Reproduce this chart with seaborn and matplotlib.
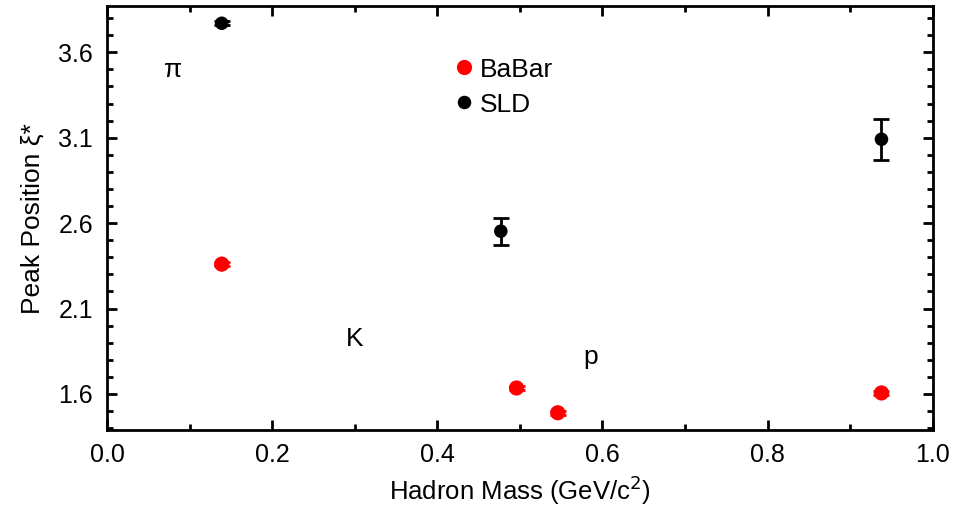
import numpy as np
import pandas as pd
import matplotlib
matplotlib.use("Agg")
import matplotlib.pyplot as plt
import seaborn as sns
from matplotlib.ticker import MultipleLocator

# Data
babar_mass = [0.139, 0.496, 0.546, 0.938]
babar_peak = [2.36, 1.635, 1.49, 1.606]
babar_err = [0.012, 0.012, 0.012, 0.012]
sld_mass = [0.139, 0.477, 0.938]
sld_peak = [3.77, 2.553, 3.091]
sld_err = [0.012, 0.08, 0.12]
particle_labels = ["π", "K", "p"]
label_x = [0.080, 0.300, 0.586]
label_y = [3.495, 1.92, 1.816]

sns.set_theme(style="ticks")
plt.rcParams['font.family'] = ['Liberation Sans', 'DejaVu Sans']
plt.rcParams['text.color'] = 'black'
plt.rcParams['axes.labelcolor'] = 'black'
plt.rcParams['xtick.color'] = 'black'
plt.rcParams['ytick.color'] = 'black'

df = pd.concat([
    pd.DataFrame({"mass": babar_mass, "peak": babar_peak, "exp": "BaBar"}),
    pd.DataFrame({"mass": sld_mass, "peak": sld_peak, "exp": "SLD"}),
])

fig = plt.figure(figsize=(9.68, 5.08), dpi=100)
ax = fig.add_axes([0.1105, 0.1535, 0.853, 0.834])

ax.errorbar(babar_mass, babar_peak, yerr=babar_err, fmt='none', ecolor='red',
            elinewidth=2, capsize=6, capthick=2, zorder=2)
ax.errorbar(sld_mass, sld_peak, yerr=sld_err, fmt='none', ecolor='black',
            elinewidth=2, capsize=6, capthick=2, zorder=2)
sns.scatterplot(data=df, x="mass", y="peak", hue="exp", size="exp",
                sizes={"BaBar": 120, "SLD": 95},
                palette={"BaBar": "#ff0000", "SLD": "black"},
                edgecolor="none", ax=ax, zorder=3)

for t, x, y in zip(particle_labels, label_x, label_y):
    ax.text(x, y, t, fontsize=19, ha='center', va='center', color='black')

ax.set_xlim(0, 1.0)
ax.set_ylim(1.389, 3.869)
ax.set_xticks([0.0, 0.2, 0.4, 0.6, 0.8, 1.0])
ax.set_xticklabels(["0.0", "0.2", "0.4", "0.6", "0.8", "1.0"])
ax.set_yticks([1.6, 2.1, 2.6, 3.1, 3.6])
ax.set_yticklabels(["1.6", "2.1", "2.6", "3.1", "3.6"])
ax.xaxis.set_minor_locator(MultipleLocator(0.1))
ax.yaxis.set_minor_locator(MultipleLocator(0.1))
ax.tick_params(which='both', direction='in', top=True, right=True, width=2, colors='black')
ax.tick_params(which='major', length=7, labelsize=18)
ax.tick_params(axis='x', which='major', pad=9)
ax.tick_params(axis='y', which='major', pad=10)
ax.tick_params(which='minor', length=4)
for s in ax.spines.values():
    s.set_linewidth(2)
    s.set_color('black')

ax.set_xlabel("Hadron Mass (GeV/c$^2$)", fontsize=18.5, labelpad=5)
ax.set_ylabel("Peak Position ξ*", fontsize=19, labelpad=10)

h, l = ax.get_legend_handles_labels()
leg = ax.legend(h, l, loc='upper left', bbox_to_anchor=(0.372, 0.935), frameon=False,
                fontsize=19, handletextpad=-0.42, labelspacing=0.42, markerscale=1.0)
for t in leg.get_texts():
    t.set_color('black')

fig.savefig("out.png", dpi=100)
